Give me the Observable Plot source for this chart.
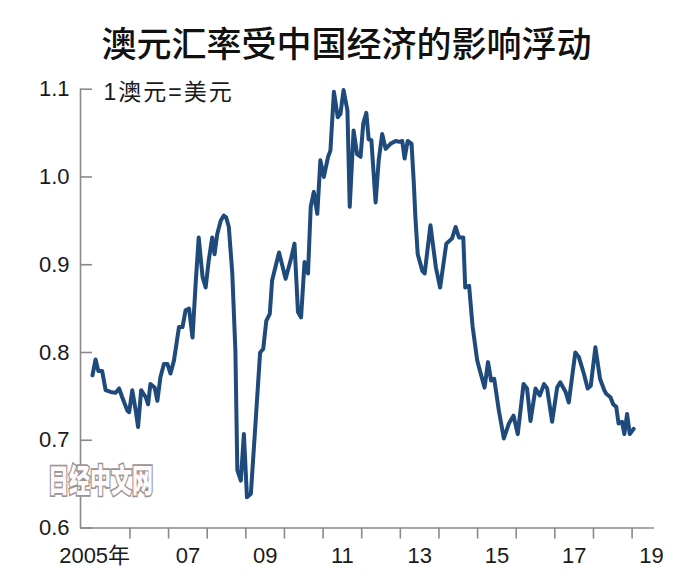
<!DOCTYPE html>
<html>
<head>
<meta charset="utf-8">
<script src="https://cdn.jsdelivr.net/npm/d3@7"></script>
<script src="https://cdn.jsdelivr.net/npm/@observablehq/plot@0.6"></script>
<style>
  html, body { margin: 0; padding: 0; background: #fff; }
  #wrap { position: relative; width: 684px; height: 583px; overflow: hidden; }
  #title { position: absolute; left: 0; top: 0; width: 684px; height: 60px; text-align: center;
    padding-left: 9px; box-sizing: border-box;
    font-family: "Noto Sans CJK SC", sans-serif; font-size: 35px; font-weight: 500; color: #111;
    line-height: 84px; }
  #chart { position: absolute; left: 0; top: 60px; }
  #wm { position: absolute; left: 48px; top: 462px; font-family: "Noto Sans CJK SC", sans-serif;
    font-weight: 900; font-size: 21px; color: #fdfbfb; -webkit-text-stroke: 2.2px #a09393;
    paint-order: stroke fill; line-height: 23px; display: inline-block;
    transform: scale(1, 1.5); transform-origin: 0 0; }
</style>
</head>
<body>
<div id="wrap">
  <div id="title">澳元汇率受中国经济的影响浮动</div>
  <div id="chart"></div>
  <div id="wm">日经中文网</div>
</div>
<script>
// Time of each reading (decimal year) and AUD/USD rate
const years = [
  2005.03,2005.11,2005.18,2005.28,2005.37,2005.50,2005.63,2005.72,2005.80,2005.93,2005.98,
  2006.06,2006.15,2006.21,2006.29,2006.41,2006.47,2006.53,2006.64,2006.71,2006.79,2006.88,2006.97,
  2007.05,2007.14,2007.27,2007.36,2007.44,2007.53,2007.62,2007.70,2007.78,2007.88,2007.96,
  2008.04,2008.13,2008.19,2008.26,2008.35,2008.43,2008.49,2008.56,2008.65,2008.73,2008.78,2008.87,2008.95,
  2009.03,2009.13,2009.25,2009.37,2009.45,2009.53,2009.62,2009.68,2009.86,
  2010.03,2010.16,2010.26,2010.35,2010.43,2010.52,2010.61,2010.68,2010.76,2010.85,2010.93,
  2011.02,2011.13,2011.19,2011.28,2011.38,2011.45,2011.53,2011.63,2011.69,2011.79,2011.88,2011.97,
  2012.04,2012.12,2012.18,2012.25,2012.36,2012.44,2012.53,2012.62,2012.75,2012.88,2012.98,
  2013.05,2013.11,2013.19,2013.29,2013.35,2013.39,2013.45,2013.57,2013.63,2013.78,2013.92,
  2014.03,2014.19,2014.34,2014.43,2014.52,2014.63,2014.68,2014.78,2014.87,2014.99,
  2015.08,2015.18,2015.27,2015.35,2015.43,2015.55,2015.68,2015.81,2015.93,
  2016.04,2016.19,2016.28,2016.37,2016.50,2016.61,2016.72,2016.80,2016.93,
  2017.06,2017.14,2017.28,2017.36,2017.53,2017.62,2017.75,2017.85,2017.93,
  2018.05,2018.17,2018.28,2018.33,2018.44,2018.51,2018.59,2018.65,2018.74,2018.80,2018.87,2018.94,
  2019.04
];
const rates = [
  0.774,0.792,0.779,0.779,0.757,0.755,0.754,0.759,0.749,0.734,0.732,
  0.757,0.734,0.715,0.757,0.749,0.741,0.764,0.760,0.745,0.772,0.787,0.787,
  0.776,0.791,0.829,0.829,0.848,0.850,0.817,0.878,0.931,0.886,0.874,
  0.905,0.931,0.912,0.935,0.950,0.956,0.954,0.943,0.890,0.802,0.666,0.654,0.707,
  0.635,0.639,0.719,0.800,0.804,0.836,0.844,0.882,0.914,
  0.884,0.905,0.924,0.846,0.840,0.903,0.890,0.966,0.983,0.958,1.019,
  1.000,1.023,1.030,1.097,1.068,1.072,1.099,1.076,0.966,1.053,1.026,1.023,
  1.061,1.073,1.043,1.042,0.971,1.019,1.049,1.032,1.038,1.041,1.040,
  1.041,1.021,1.041,1.038,0.992,0.954,0.912,0.893,0.890,0.945,0.897,
  0.874,0.924,0.930,0.943,0.931,0.931,0.874,0.876,0.830,0.791,
  0.776,0.760,0.789,0.768,0.770,0.734,0.702,0.719,0.728,
  0.707,0.764,0.759,0.722,0.759,0.751,0.764,0.759,0.721,
  0.760,0.766,0.755,0.743,0.800,0.795,0.776,0.759,0.762,
  0.806,0.770,0.757,0.753,0.749,0.741,0.738,0.719,0.721,0.707,0.730,0.707,
  0.713
];
const xDomain = [2004.72, 2019.58];
const yTicks = [0.6, 0.7, 0.8, 0.9, 1.0, 1.1];
const xTickYears = [2006,2007,2008,2009,2010,2011,2012,2013,2014,2015,2016,2017,2018,2019];
const firstLabel = { year: 2005, text: "2005年" };
const labelYears = [2007, 2009, 2011, 2013, 2015, 2017, 2019];
const labelTexts = ["07", "09", "11", "13", "15", "17", "19"];
const unitLabel = "1澳元=美元";

const data = years.map((t, i) => ({ t, v: rates[i] }));
const numFont = '"Liberation Sans", Arial, sans-serif';
const cjkFont = '"Liberation Sans", "Noto Sans CJK SC", sans-serif';
const axisColor = "#8a8a8a";
const W = 684, H = 523, mL = 80, mR = 30, mT = 28.7, mB = 55.5;
const frameW = W - mL - mR, frameH = H - mT - mB;

const chart = Plot.plot({
  width: W,
  height: H,
  marginLeft: mL,
  marginRight: mR,
  marginTop: mT,
  marginBottom: mB,
  style: { fontFamily: numFont, background: "transparent", overflow: "visible" },
  x: { type: "linear", domain: xDomain, axis: null },
  y: { domain: [0.6, 1.1], axis: null },
  marks: [
    Plot.ruleX([xDomain[0]], { stroke: axisColor, strokeWidth: 1.6 }),
    Plot.ruleY([yTicks[0]], { stroke: axisColor, strokeWidth: 1.6 }),
    // inward y ticks
    Plot.tickY(yTicks, { y: (d) => d, insetRight: frameW - 12, stroke: axisColor, strokeWidth: 1.6 }),
    // downward x ticks at year boundaries
    Plot.tickX(xTickYears, { x: (d) => d, insetTop: frameH, insetBottom: -11, stroke: axisColor, strokeWidth: 1.6 }),
    Plot.text(yTicks, { y: (d) => d, text: d3.format(".1f"), frameAnchor: "left", dx: -11, textAnchor: "end", fontSize: 22, fill: "#1a1a1a" }),
    Plot.text(labelYears, { x: (d) => d + 0.5, text: (d, i) => labelTexts[i], frameAnchor: "bottom", dy: 28, fontSize: 22, fill: "#1a1a1a", lineAnchor: "middle" }),
    Plot.text([firstLabel], { x: (d) => d.year + 0.5, text: "text", frameAnchor: "bottom", dy: 28, dx: -16, fontSize: 22, fill: "#1a1a1a", lineAnchor: "middle", fontFamily: cjkFont }),
    Plot.text([unitLabel], { frameAnchor: "top-left", dx: 23, dy: 3.5, lineAnchor: "middle", textAnchor: "start", fontSize: 23, fill: "#1a1a1a", fontFamily: cjkFont, letterSpacing: 2 }),
    Plot.line(data, { x: "t", y: "v", stroke: "#1e4a7c", strokeWidth: 4, strokeLinejoin: "round", strokeLinecap: "round" })
  ]
});
d3.select(chart).selectAll("text").filter(function () { return this.textContent === unitLabel; })
  .style("letter-spacing", "2px");
document.getElementById("chart").appendChild(chart);
</script>
</body>
</html>
